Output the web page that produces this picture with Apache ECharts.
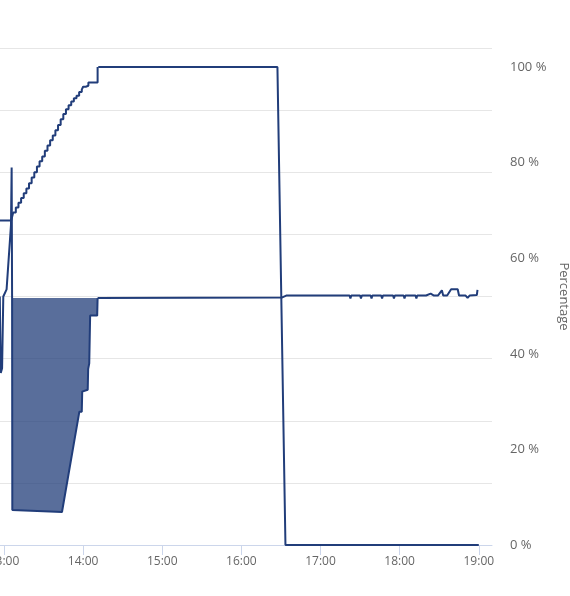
<!DOCTYPE html>
<html><head><meta charset="utf-8">
<script src="https://cdn.jsdelivr.net/npm/echarts@6/dist/echarts.min.js"></script>
<style>html,body{margin:0;padding:0;background:#fff}#c{width:570px;height:596px}</style>
</head><body><div id="c"></div>
<script>
// ---- data (time of day, percentage) ----
const stairTimes  = ['12:56:50','13:05:30','13:07:00','13:09:00','13:11:00','13:13:00','13:15:00','13:17:00','13:19:00','13:21:00','13:23:00','13:25:00','13:27:00','13:29:00','13:31:00','13:33:00','13:35:00','13:37:00','13:39:00','13:41:00','13:43:00','13:45:00','13:47:00','13:49:00','13:51:00','13:53:00','13:55:00','13:57:00','13:59:00','14:00:00','14:02:00','14:04:00','14:11:00','14:11:30'];
const stairValues = [67.9,67.9,69.6,70.6,71.6,72.6,73.6,74.6,75.7,76.9,78.0,79.2,80.3,81.3,82.5,83.6,84.7,85.7,86.8,87.9,89.1,90.2,91.2,92.0,92.8,93.5,94.0,94.8,95.3,95.9,96.1,96.8,100,100];

const topTimes  = ['14:11:30','16:27:20','16:33:25','19:00:00'];
const topValues = [100,100,0,0];

const startTimes  = ['12:56:50','12:57:35','12:58:35','12:59:30','13:02:00','13:05:20','13:05:50','13:06:10'];
const startValues = [52,36,37,52,53.5,67,79,51.7];

const fillTimes  = ['13:06:10','13:06:20','13:44:00','13:57:10','13:59:00','13:59:20','14:03:30','14:03:50','14:04:40','14:05:20','14:10:40','14:11:00'];
const fillValues = [51.7,7.3,6.9,27.9,27.9,32.1,32.5,36.8,38,48,48,51.7];
const fillTop = 51.7;

const levelTimes  = ['14:11:00','16:31:00','16:34:00','17:22:00','17:22:40','17:23:20','17:30:00','17:30:40','17:31:20','17:38:00','17:38:40','17:39:20','17:46:00','17:46:40','17:47:20','17:55:00','17:55:40','17:56:20','18:03:00','18:03:40','18:04:20','18:12:00','18:12:40','18:13:20','18:20:00','18:23:30','18:26:00','18:29:00','18:32:00','18:33:00','18:36:00','18:39:00','18:44:00','18:45:00','18:50:00','18:51:30','18:53:00','18:58:30','18:59:00'];
const levelValues = [51.7,51.8,52.2,52.2,51.6,52.2,52.2,51.6,52.2,52.2,51.6,52.2,52.2,51.6,52.2,52.2,51.6,52.2,52.2,51.6,52.2,52.2,51.6,52.2,52.2,52.6,52.2,52.2,53.3,52.2,52.2,53.5,53.5,52.2,52.2,51.7,52.2,52.3,53.4];

const pctTicks = [0,20,40,60,80,100];
const xMin = '12:57:00', xMax = '19:10:00';

// ---- helpers ----
function toTs(s){ const p=s.split(':').map(Number); return new Date(2024,0,1,p[0],p[1],p[2]||0).getTime(); }
function pairs(ts, vs){ return ts.map((t,i)=>[toTs(t), vs[i]]); }
function pad(n){ return (n<10?'0':'')+n; }

const navy = '#213d7a';
const font = '"Open Sans", "DejaVu Sans", sans-serif';
const lineBase = { type:'line', yAxisIndex:1, showSymbol:false, symbol:'none', lineStyle:{color:navy,width:2}, itemStyle:{color:navy}, animation:false, z:3 };

const chart = echarts.init(document.getElementById('c'), null, {renderer:'canvas'});
chart.setOption({
  animation:false,
  backgroundColor:'#ffffff',
  grid:{ left:0, right:78, top:48, bottom:51, containLabel:false, outerBoundsMode:'none' },
  xAxis:{
    type:'time', min:toTs(xMin), max:toTs(xMax),
    minInterval:3600000, maxInterval:3600000,
    axisLine:{ lineStyle:{ color:'#ccd6eb', width:1 } },
    axisTick:{ show:true, length:10, lineStyle:{ color:'#ccd6eb' } },
    axisLabel:{ color:'#666666', fontSize:12, fontFamily:font, margin:11, hideOverlap:false,
      formatter:function(v){ const d=new Date(v); return pad(d.getHours())+':'+pad(d.getMinutes()); } },
    splitLine:{ show:false }
  },
  yAxis:[
    { type:'value', min:0, max:8, interval:1, position:'left',
      axisLine:{show:false}, axisTick:{show:false}, axisLabel:{show:false},
      splitLine:{ show:true, lineStyle:{ color:'#e6e6e6', width:1 } } },
    { type:'value', min:0, max:104, interval:20, position:'right',
      axisLine:{show:false}, axisTick:{show:false}, splitLine:{show:false},
      axisLabel:{ color:'#666666', fontSize:13, fontFamily:font, margin:18,
        formatter:function(v){ return pctTicks.indexOf(v)>=0 ? v+' %' : ''; } },
      name:'Percentage', nameLocation:'middle', nameRotate:-90, nameGap:62,
      nameTextStyle:{ color:'#666666', fontSize:13, fontFamily:font } }
  ],
  series:[
    Object.assign({}, lineBase, { name:'Ramp', step:'end', data:pairs(stairTimes, stairValues) }),
    Object.assign({}, lineBase, { name:'Top', data:pairs(topTimes, topValues) }),
    Object.assign({}, lineBase, { name:'Start', data:pairs(startTimes, startValues) }),
    Object.assign({}, lineBase, { name:'Fill', data:pairs(fillTimes, fillValues),
      areaStyle:{ color:'rgba(33,61,122,0.75)', origin:fillTop, opacity:1 } }),
    Object.assign({}, lineBase, { name:'Level', data:pairs(levelTimes, levelValues) })
  ]
});
</script>
</body></html>
